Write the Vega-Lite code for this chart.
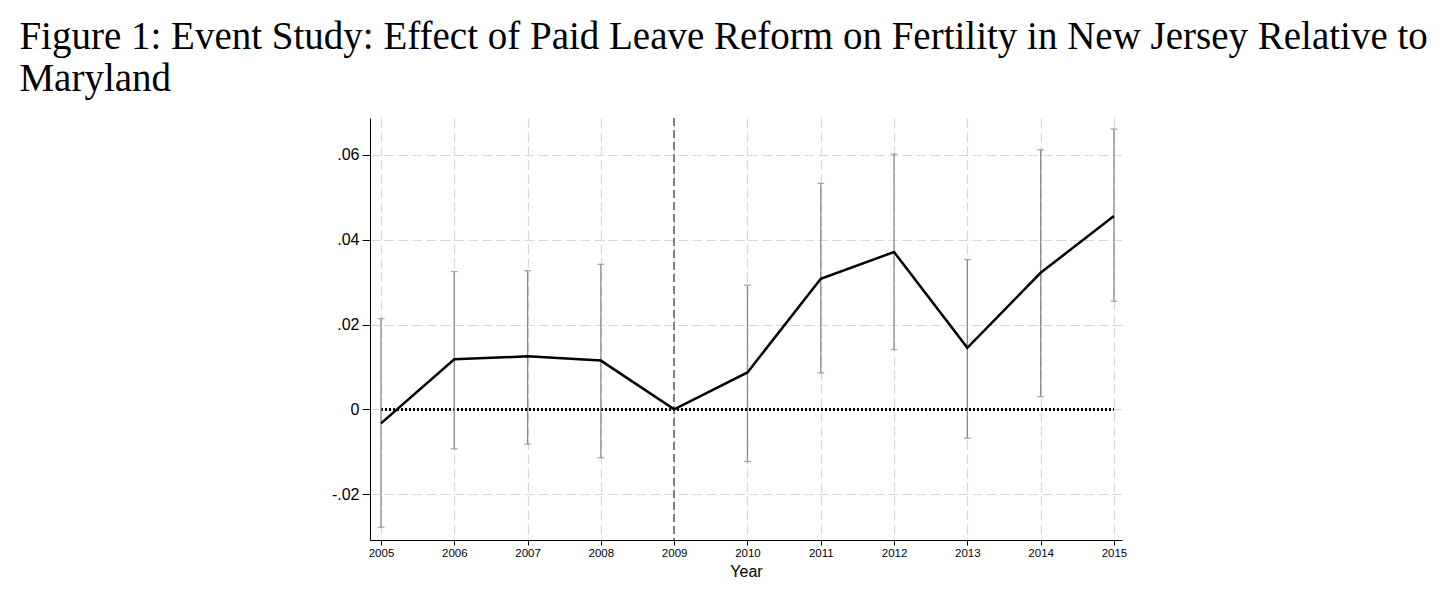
{
  "$schema": "https://vega.github.io/schema/vega-lite/v6.json",
  "width": 752,
  "height": 422,
  "autosize": {"type": "none"},
  "padding": {"left": 370, "top": 118, "right": 334, "bottom": 67},
  "background": "white",
  "title": {
    "text": ["Figure 1: Event Study: Effect of Paid Leave Reform on Fertility in New Jersey Relative to", "Maryland"],
    "anchor": "start",
    "dx": -312,
    "font": "Liberation Serif",
    "fontSize": 39,
    "fontWeight": "normal",
    "color": "black",
    "lineHeight": 42,
    "offset": 18
  },
  "data": {
    "values": [
      {"year": 2005, "coef": -0.0033, "lo": -0.0278, "hi": 0.0214},
      {"year": 2006, "coef": 0.0118, "lo": -0.0093, "hi": 0.0325},
      {"year": 2007, "coef": 0.0125, "lo": -0.0082, "hi": 0.0327},
      {"year": 2008, "coef": 0.0115, "lo": -0.0114, "hi": 0.0342},
      {"year": 2009, "coef": 0.0, "lo": null, "hi": null},
      {"year": 2010, "coef": 0.0087, "lo": -0.0123, "hi": 0.0293},
      {"year": 2011, "coef": 0.0308, "lo": 0.0086, "hi": 0.0533},
      {"year": 2012, "coef": 0.0371, "lo": 0.0141, "hi": 0.0602},
      {"year": 2013, "coef": 0.0145, "lo": -0.0068, "hi": 0.0353},
      {"year": 2014, "coef": 0.0322, "lo": 0.0030, "hi": 0.0612},
      {"year": 2015, "coef": 0.0456, "lo": 0.0255, "hi": 0.0661}
    ]
  },
  "config": {
    "view": {"stroke": null},
    "font": "Liberation Sans",
    "axis": {
      "domainColor": "black",
      "domainWidth": 1,
      "tickColor": "black",
      "labelColor": "black",
      "titleColor": "black",
      "gridColor": "#d8d8d8",
      "gridDash": [10, 4],
      "gridWidth": 1.2
    }
  },
  "encoding": {
    "x": {
      "field": "year",
      "type": "quantitative",
      "scale": {"domain": [2004.85, 2015.11], "nice": false, "zero": false},
      "axis": {
        "title": "Year",
        "grid": true,
        "values": [2005, 2006, 2007, 2008, 2009, 2010, 2011, 2012, 2013, 2014, 2015],
        "format": "d",
        "labelFont": "Liberation Sans Narrow, Liberation Sans",
        "labelFontSize": 11.5,
        "labelPadding": 2,
        "tickSize": 5,
        "titleFontSize": 16,
        "titleFontWeight": "normal",
        "titlePadding": 5
      }
    },
    "y": {
      "field": "coef",
      "type": "quantitative",
      "scale": {"domain": [-0.0308, 0.0687], "nice": false, "zero": false},
      "axis": {
        "title": null,
        "grid": true,
        "values": [-0.02, 0, 0.02, 0.04, 0.06],
        "labelExpr": "datum.value == 0 ? '0' : replace(replace(format(datum.value, '.2f'), '0.', '.'), '\u2212', '-')",
        "labelFontSize": 16,
        "labelPadding": 3,
        "tickSize": 8
      }
    }
  },
  "layer": [
    {
      "mark": {"type": "rule", "color": "#808080", "strokeWidth": 1.5, "strokeDash": [8, 4]},
      "encoding": {"x": {"datum": 2009}, "y": null}
    },
    {
      "mark": {"type": "rule", "color": "black", "strokeWidth": 1.6, "strokeDash": [2, 2]},
      "encoding": {"x": {"datum": 2005}, "x2": {"datum": 2015}, "y": {"datum": 0}}
    },
    {
      "transform": [{"filter": "datum.lo != null"}],
      "mark": {"type": "rule", "color": "#8a8a8a", "strokeWidth": 1.3},
      "encoding": {"y": {"field": "lo"}, "y2": {"field": "hi"}}
    },
    {
      "transform": [{"filter": "datum.lo != null"}],
      "mark": {"type": "tick", "orient": "horizontal", "color": "#8a8a8a", "size": 7, "thickness": 1.3},
      "encoding": {"y": {"field": "lo"}}
    },
    {
      "transform": [{"filter": "datum.hi != null"}],
      "mark": {"type": "tick", "orient": "horizontal", "color": "#8a8a8a", "size": 7, "thickness": 1.3},
      "encoding": {"y": {"field": "hi"}}
    },
    {
      "mark": {"type": "line", "color": "black", "strokeWidth": 2.5},
      "encoding": {"y": {"field": "coef"}}
    }
  ]
}
